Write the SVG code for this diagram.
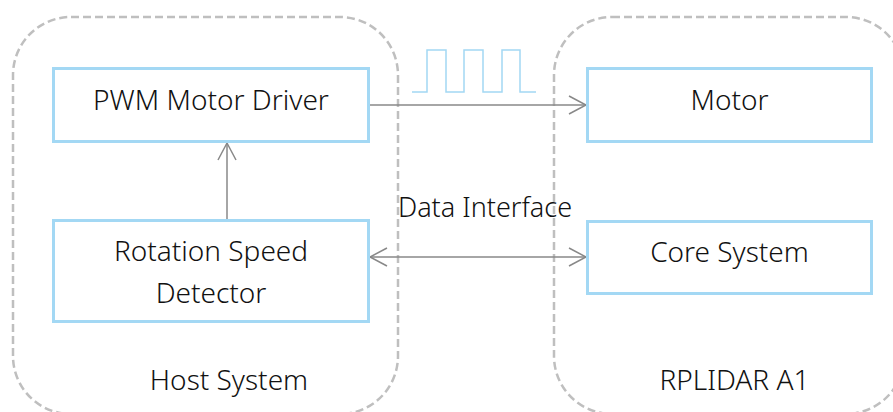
<svg xmlns="http://www.w3.org/2000/svg" width="893" height="412" viewBox="0 0 893 412">
  <defs>
    <style>
      .container { fill: none; stroke: #BFBFBF; stroke-width: 2.5; stroke-dasharray: 8 4; }
      .box { fill: #FFFFFF; stroke: #A3D8F4; stroke-width: 3; }
      .label { font-family: "Noto Sans", "Open Sans", sans-serif; font-size: 28px; font-weight: 300; fill: #111111; text-anchor: middle; }
      .edge-label { font-size: 27px; }
      .conn { fill: none; stroke: #888888; stroke-width: 1.5; }
      .pwm { fill: none; stroke: #A3D8F4; stroke-width: 1.5; }
    </style>
    <marker id="arrow" viewBox="0 0 20 20" refX="18" refY="10" markerWidth="20" markerHeight="20" markerUnits="userSpaceOnUse" orient="auto-start-reverse">
      <path d="M1,1 L18,10 L1,19" fill="none" stroke="#888888" stroke-width="1.5"/>
    </marker>
  </defs>
  <rect width="893" height="412" fill="#FFFFFF"/>

  <g id="host-system">
    <rect class="container" x="13" y="17" width="385" height="397" rx="58" ry="58"/>
    <text class="label" x="229" y="390">Host System</text>
  </g>
  <g id="rplidar-a1">
    <rect class="container" x="554" y="17" width="350" height="397" rx="58" ry="58"/>
    <text class="label" x="734.5" y="390">RPLIDAR A1</text>
  </g>

  <g id="pwm-signal">
    <path class="pwm" d="M412,92 H427 V50 H446 V92 H464 V50 H483 V92 H502 V50 H520 V92 H536"/>
  </g>

  <g id="connectors">
    <line class="conn" x1="370" y1="105" x2="586" y2="105" marker-end="url(#arrow)"/>
    <line class="conn" x1="227" y1="219" x2="227" y2="143" marker-end="url(#arrow)"/>
    <line class="conn" x1="370" y1="257" x2="586" y2="257" marker-start="url(#arrow)" marker-end="url(#arrow)"/>
    <text class="label edge-label" x="485" y="217">Data Interface</text>
  </g>

  <g id="pwm-motor-driver">
    <rect class="box" x="53.5" y="68.5" width="315" height="73"/>
    <text class="label" x="211" y="109.5">PWM Motor Driver</text>
  </g>
  <g id="rotation-speed-detector">
    <rect class="box" x="53.5" y="220.5" width="315" height="101"/>
    <text class="label" x="211" y="261">Rotation Speed</text>
    <text class="label" x="211" y="303">Detector</text>
  </g>
  <g id="motor">
    <rect class="box" x="587.5" y="68.5" width="284" height="73"/>
    <text class="label" x="729.5" y="109.5">Motor</text>
  </g>
  <g id="core-system">
    <rect class="box" x="587.5" y="221.5" width="284" height="72"/>
    <text class="label" x="729.5" y="262">Core System</text>
  </g>
</svg>
